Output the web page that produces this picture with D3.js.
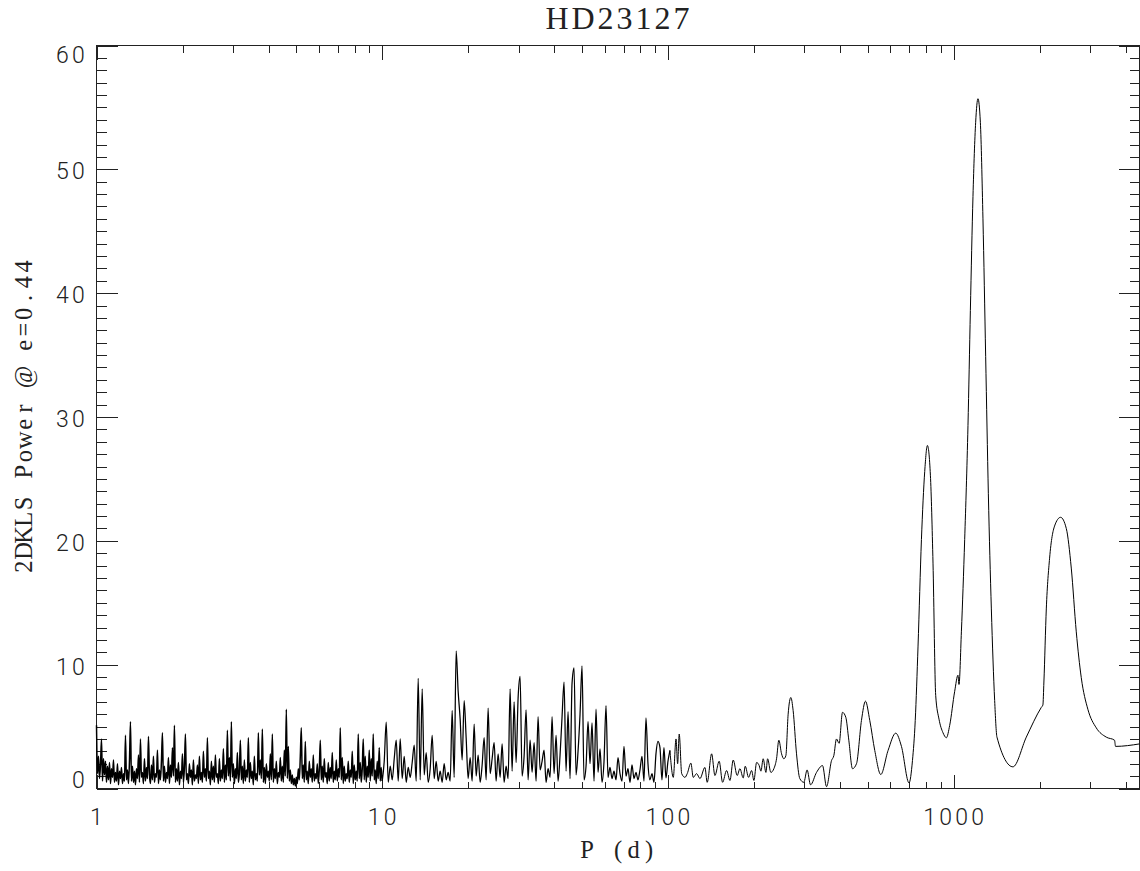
<!DOCTYPE html>
<html>
<head>
<meta charset="utf-8">
<script src="https://cdn.jsdelivr.net/npm/d3@7"></script>
<style>
  body { margin: 0; background: #fff; }
  .tick-label { font-family: Roboto, "DejaVu Sans", sans-serif; font-weight: 300; font-size: 23px; fill: #222; }
  .axis-title { font-family: "Liberation Serif", "DejaVu Serif", serif; font-size: 24.5px; fill: #222; }
  .plot-title { font-family: "Liberation Serif", "DejaVu Serif", serif; font-size: 32px; letter-spacing: 3px; fill: #222; }
</style>
</head>
<body>
<script>
const W = 1140;
const H = 871;

// 2DKLS power, periods 1..10 d (log-even grid)
const powerShort = [
  5.1, 1.2, 2.6, 0.8, 1.9, 4.0, 0.6, 2.4, 1.1, 2.2,
  0.5, 1.8, 0.7, 2.1, 0.4, 1.6, 0.9, 2.3, 0.5, 1.3,
  0.6, 2.0, 0.3, 1.4, 0.8, 1.7, 0.4, 1.2, 0.6, 4.3,
  0.7, 1.5, 0.4, 2.2, 5.4, 0.6, 1.8, 0.5, 1.4, 0.3,
  1.6, 0.8, 2.7, 0.5, 4.0, 0.9, 1.3, 0.4, 2.4, 0.6,
  1.7, 0.8, 4.2, 1.1, 0.4, 1.9, 0.7, 2.6, 0.5, 1.2,
  0.9, 3.1, 0.4, 1.5, 0.7, 2.2, 4.5, 0.6, 1.8, 0.5,
  1.3, 0.8, 2.5, 0.4, 1.9, 0.9, 3.3, 1.0, 5.1, 0.5,
  1.6, 0.6, 2.1, 0.3, 1.4, 0.8, 2.8, 0.5, 1.7, 4.4,
  0.7, 1.2, 0.4, 2.0, 0.9, 1.5, 0.3, 2.3, 0.6, 1.1,
  0.8, 1.9, 0.4, 2.6, 0.7, 1.3, 0.5, 3.0, 0.9, 1.6,
  0.6, 4.1, 0.8, 1.4, 0.3, 2.2, 0.7, 1.8, 0.5, 2.7,
  0.9, 1.2, 0.4, 2.4, 0.6, 1.5, 0.8, 3.2, 0.5, 1.9,
  0.7, 4.7, 1.0, 2.5, 0.6, 5.4, 0.9, 2.0, 0.4, 1.6,
  0.8, 2.9, 0.5, 1.3, 3.9, 0.7, 1.8, 0.4, 2.3, 0.6,
  1.5, 0.9, 4.1, 0.5, 2.1, 0.8, 1.4, 0.3, 2.6, 0.7,
  1.2, 0.6, 4.5, 1.1, 2.3, 0.8, 4.8, 0.5, 1.7, 0.4,
  2.0, 0.9, 1.4, 0.6, 2.8, 0.7, 4.4, 0.5, 1.6, 0.8,
  2.2, 0.4, 1.3, 0.9, 2.5, 0.6, 1.8, 0.5, 3.1, 1.0,
  6.4, 0.8, 3.4, 0.6, 1.5, 0.4, 1.1, 0.3, 0.8, 0.2,
  0.9, 0.4, 1.6, 0.7, 2.6, 4.9, 0.8, 1.9, 0.5, 3.8,
  0.7, 1.4, 0.4, 2.2, 0.9, 1.6, 0.5, 2.7, 0.6, 1.2,
  0.8, 2.0, 0.4, 1.5, 3.9, 0.7, 1.8, 0.5, 2.4, 0.9,
  1.3, 0.4, 2.1, 0.6, 1.7, 0.8, 2.9, 0.5, 1.4, 0.7,
  2.3, 0.6, 1.6, 0.9, 4.9, 0.7, 2.5, 0.4, 1.8, 0.6,
  1.2, 0.8, 2.2, 0.5, 1.5, 0.9, 3.0, 0.4, 1.9, 0.7,
  1.4, 0.6, 4.4, 0.8, 2.1, 0.5, 1.6, 4.0, 0.7, 2.6,
  0.5, 1.8, 0.9, 3.1, 0.6, 2.4, 1.0, 4.4, 0.7, 1.5,
  0.4, 2.2, 0.8, 3.3, 0.6, 1.7
];

// periods 10..100 d (log-even grid)
const powerMid = [
  0.6, 2.2, 5.35, 0.5, 1.8, 0.7, 2.4, 3.9, 0.6, 4.0,
  0.8, 2.6, 0.5, 1.7, 0.9, 2.1, 3.5, 0.6, 8.9, 0.7,
  8.05, 1.1, 2.9, 0.5, 1.6, 4.3, 0.8, 2.2, 0.6, 1.4,
  0.5, 2.0, 0.7, 1.3, 0.6, 6.3, 0.9, 11.1, 7.85, 5.6,
  2.3, 7.1, 4.1, 0.8, 2.5, 0.6, 5.2, 1.0, 2.7, 0.5,
  1.9, 4.1, 0.7, 6.5, 1.2, 2.4, 3.7, 0.6, 2.8, 0.9,
  3.6, 0.5, 1.8, 0.8, 8.05, 1.4, 7.0, 2.1, 7.3, 9.05,
  1.0, 2.6, 6.35, 0.7, 3.9, 1.3, 3.7, 0.6, 5.8, 1.5,
  2.2, 3.1, 0.5, 1.6, 0.9, 5.8, 1.2, 4.3, 0.6, 2.7,
  5.8, 8.6, 1.4, 6.2, 0.8, 8.5, 9.75, 1.1, 3.0, 6.0,
  9.9, 0.7, 1.8, 5.4, 2.0, 5.3, 0.6, 6.4, 1.3, 3.2,
  0.5, 2.2, 6.7, 0.9, 1.7, 0.8, 1.4, 0.7, 2.5, 1.2,
  0.6, 3.4, 1.0, 1.6, 0.5, 1.9, 0.8, 1.3, 0.7, 1.5,
  2.6, 0.6, 5.7, 2.0, 0.7, 1.2, 0.5, 2.8, 3.8, 3.3,
  0.7, 3.3, 0.85, 2.2
];

// long periods (d) and their power
const longPeriods = [
  101.6, 104.4, 106.7, 108.1, 109.5, 111.7, 114.7, 116.8, 120.3, 122.6,
  126.0, 129.4, 134.7, 137.2, 142.2, 146.0, 151.1, 155.3, 160.4, 164.8,
  169.2, 174.7, 178.6, 183.4, 186.4, 191.5, 196.2, 199.9, 204.3, 208.6,
  211.5, 215.4, 220.2, 223.2, 229.2, 234.8, 239.9, 244.4, 249.8, 254.4,
  258.6, 263.4, 269.2, 274.2, 281.8, 289.4, 298.9, 306.9, 315.5, 331.1,
  347.5, 358.9, 373.6, 380.6, 388.9, 397.2, 408.2, 419.2, 429.5, 442.4,
  456.9, 475.6, 491.2, 508.5, 529.4, 555.7, 589.3, 626.9, 656.4, 697.9,
  717.3, 733.6, 750.3, 771.1, 791.8, 809.2, 828.9, 846.5, 865.1, 888.4,
  917.5, 942.9, 968.3, 1008.1, 1035.2, 1043.6, 1064.0, 1092.6, 1122.0, 1143.9,
  1168.1, 1193.7, 1216.1, 1239.8, 1266.0, 1293.9, 1322.3, 1354.6, 1391.2, 1417.2,
  1611.8, 1795.6, 2026.0, 2052.3, 2068.9, 2109.3, 2166.0, 2255.0, 2366.6, 2477.8,
  2579.5, 2685.5, 2795.8, 2948.3, 3154.6, 3419.1, 3655.4, 3684.9, 4470
];
const longPower = [
  3.07, 0.9, 4.0, 2.0, 4.4, 1.2, 0.9, 1.2, 2.05, 0.9,
  1.2, 0.8, 1.7, 0.5, 2.8, 1.05, 2.2, 0.5, 1.45, 0.65,
  2.3, 1.05, 1.6, 0.85, 1.8, 0.9, 1.45, 0.65, 2.1, 1.85,
  1.4, 2.4, 1.3, 2.4, 1.3, 1.6, 2.4, 3.9, 2.8, 2.4,
  2.65, 6.0, 7.35, 6.3, 2.8, 0.8, 0.5, 1.5, 0.3, 1.3,
  1.85, 0.15, 2.25, 2.65, 4.0, 3.65, 6.15, 5.75, 3.9, 1.6,
  2.0, 5.5, 7.05, 5.5, 3.07, 1.13, 3.07, 4.47, 3.4, 0.45,
  2.25, 5.5, 11.5, 20.1, 25.6, 27.7, 25.3, 18.2, 7.5, 5.6,
  4.5, 4.1, 5.1, 7.85, 9.15, 8.4, 12.65, 20.1, 29.3, 38.6,
  47.8, 53.8, 55.7, 53.8, 46.0, 34.9, 23.8, 14.5, 7.1, 4.15,
  1.75, 4.15, 6.55, 6.75, 8.6, 14.5, 18.6, 21.2, 21.9, 21.0,
  17.8, 12.65, 8.95, 6.4, 4.9, 4.15, 3.9, 3.4, 3.6
];

const xTicks = [1, 10, 100, 1000];
const xTickLabels = ["1", "10", "100", "1000"];
const yTicks = [0, 10, 20, 30, 40, 50, 60];
const yTickLabels = ["0", "10", "20", "30", "40", "50", "60"];

const title = "HD23127";
const xTitle = "P (d)";
const yTitle = "2DKLS Power @ e=0.44";

// assemble the three stretches of the periodogram
const shortPts = powerShort.map((v, i) => ({ p: 10 ** (i / powerShort.length), v }));
const midPts = powerMid.map((v, i) => ({ p: 10 ** (1 + i / (powerMid.length - 1)), v }));
const longPts = longPeriods.map((p, i) => ({ p, v: longPower[i] }));

// plot box
const x0 = 96.5, x1 = 1139.5, y0 = 788.5, y1 = 45.5;

const x = d3.scaleLog().domain([1, 4470]).range([x0, x1]);
const y = d3.scaleLinear().domain([0, 60]).range([y0, y1]);

const svg = d3.select("body").append("svg")
  .attr("width", W)
  .attr("height", H);

// text with every character in its own cell (fixed pitch like the original)
function pitched(g, str, cx, cy, cell, cls, align) {
  const n = str.length;
  const xs = d3.range(n).map(i => align === "end"
    ? cx - (n - 1 - i) * cell
    : cx + (i - (n - 1) / 2) * cell);
  return g.append("text")
    .attr("class", cls)
    .attr("x", xs.map(d => d.toFixed(1)).join(" "))
    .attr("y", cy)
    .attr("text-anchor", "middle")
    .attr("xml:space", "preserve")
    .text(str);
}

// minor ticks
const xMinor = [];
[1, 10, 100, 1000].forEach(d => {
  for (let k = 2; k <= 9; k++) if (d * k <= 4470) xMinor.push(d * k);
});
const yMinor = d3.range(0, 61).filter(v => v % 10 !== 0);

const ticks = svg.append("g")
  .attr("stroke", "#222")
  .attr("stroke-width", 1)
  .attr("shape-rendering", "crispEdges");

function xTickMarks(vals, len) {
  ticks.selectAll(null).data(vals).enter().append("line")
    .attr("x1", d => Math.round(x(d)) + 0.5).attr("x2", d => Math.round(x(d)) + 0.5)
    .attr("y1", y0).attr("y2", y0 - len);
  ticks.selectAll(null).data(vals).enter().append("line")
    .attr("x1", d => Math.round(x(d)) + 0.5).attr("x2", d => Math.round(x(d)) + 0.5)
    .attr("y1", y1).attr("y2", y1 + len);
}
function yTickMarks(vals, len) {
  ticks.selectAll(null).data(vals).enter().append("line")
    .attr("y1", d => Math.round(y(d)) + 0.5).attr("y2", d => Math.round(y(d)) + 0.5)
    .attr("x1", x0).attr("x2", x0 + len);
  ticks.selectAll(null).data(vals).enter().append("line")
    .attr("y1", d => Math.round(y(d)) + 0.5).attr("y2", d => Math.round(y(d)) + 0.5)
    .attr("x1", x1).attr("x2", x1 - len);
}
xTickMarks(xTicks, 14);
xTickMarks(xMinor, 7);
yTickMarks(yTicks, 21);
yTickMarks(yMinor, 10);

// frame
svg.append("rect")
  .attr("x", x0).attr("y", y1)
  .attr("width", x1 - x0).attr("height", y0 - y1)
  .attr("fill", "none")
  .attr("stroke", "#222")
  .attr("shape-rendering", "crispEdges");

// tick labels
const labels = svg.append("g");
xTicks.forEach((t, i) => pitched(labels, xTickLabels[i], x(t), 825, 16, "tick-label"));
yTicks.forEach((t, i) => {
  const base = Math.min(788, Math.max(63, y(t) + 10));
  pitched(labels, yTickLabels[i], 78.5, base, 16, "tick-label", "end");
});

// titles
svg.append("text")
  .attr("class", "plot-title")
  .attr("x", 619)
  .attr("y", 29)
  .attr("text-anchor", "middle")
  .text(title);
pitched(svg, xTitle, 618, 858, 15.5, "axis-title");
const yg = svg.append("g").attr("transform", "translate(32,416.5) rotate(-90)");
pitched(yg, yTitle, 0, 0, 15.8, "axis-title");

// periodogram: the dense short-period part is drawn a touch heavier,
// as the many overlapping oscillations make it read in the original
const line = d3.line()
  .x(d => x(d.p))
  .y(d => y(d.v))
  .curve(d3.curveMonotoneX);

const stretches = [
  { pts: shortPts.concat(midPts.slice(0, 1)), w: 1.5 },
  { pts: midPts.concat(longPts.slice(0, 1)), w: 1.25 },
  { pts: longPts, w: 1 }
];

svg.selectAll("path.pgram")
  .data(stretches)
  .enter()
  .append("path")
  .attr("class", "pgram")
  .attr("d", d => line(d.pts))
  .attr("fill", "none")
  .attr("stroke", "#000")
  .attr("stroke-width", d => d.w)
  .attr("stroke-linejoin", "round");
</script>
</body>
</html>
